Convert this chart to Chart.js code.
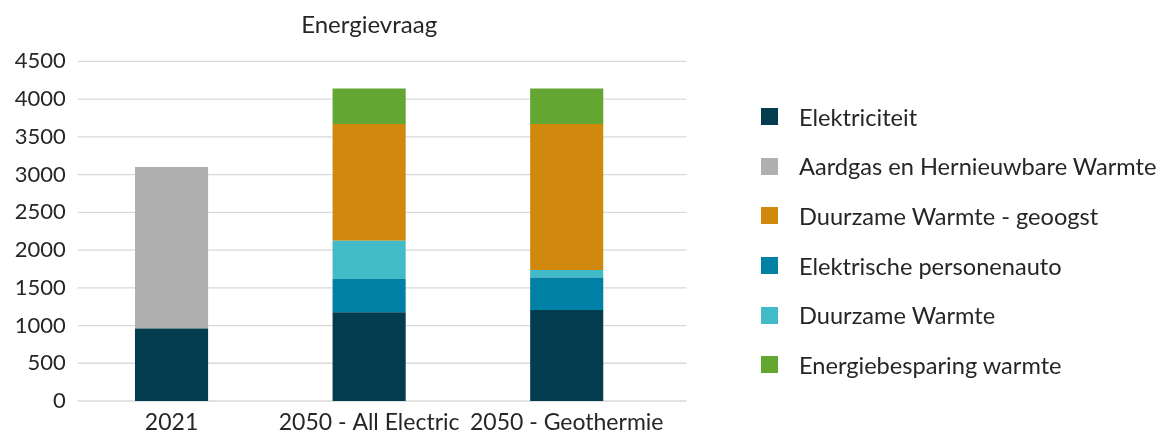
<!DOCTYPE html>
<html lang="nl">
<head>
<meta charset="utf-8">
<title>Energievraag</title>
<script src="https://cdn.jsdelivr.net/npm/chart.js@4.4.1/dist/chart.umd.min.js"></script>
<style>
  body { margin: 0; background: #fff; }
  #wrap { position: relative; width: 1171px; height: 438px; }
  #legend {
    position: absolute; left: 761px; top: 92px;
    margin: 0; padding: 0; list-style: none;
    font-family: Lato, sans-serif; font-size: 23.6px; color: #262626;
  }
  #legend li { display: flex; align-items: center; height: 49.6px; white-space: nowrap; }
  #legend .box { width: 17px; height: 17px; margin-right: 21px; flex: none; }
</style>
</head>
<body>
<div id="wrap">
  <canvas id="chart" width="1171" height="438"></canvas>
  <ul id="legend"></ul>
</div>
<script>
// categories on the x axis
const categories = ['2021', '2050 - All Electric', '2050 - Geothermie'];

// stacked series, bottom to top
const elektriciteit = [960, 1175, 1205];
const aardgas = [2140, 0, 0];
const personenauto = [0, 440, 430];
const duurzameWarmte = [0, 510, 100];
const geoogst = [0, 1545, 1935];
const besparing = [0, 470, 470];

// y axis ticks
const yMin = 0;
const yMax = 4500;
const yStep = 500;

const series = [
  { label: 'Elektriciteit', data: elektriciteit, color: '#043c4f' },
  { label: 'Aardgas en Hernieuwbare Warmte', data: aardgas, color: '#b0b0b0' },
  { label: 'Elektrische personenauto', data: personenauto, color: '#0180a6' },
  { label: 'Duurzame Warmte', data: duurzameWarmte, color: '#42bbc9' },
  { label: 'Duurzame Warmte - geoogst', data: geoogst, color: '#d0890c' },
  { label: 'Energiebesparing warmte', data: besparing, color: '#63a632' }
];

// legend order as in the report
const legendOrder = [
  'Elektriciteit',
  'Aardgas en Hernieuwbare Warmte',
  'Duurzame Warmte - geoogst',
  'Elektrische personenauto',
  'Duurzame Warmte',
  'Energiebesparing warmte'
];

const textColor = '#262626';
const fontFamily = 'Lato, sans-serif';

// horizontal gridlines, a bit wider than the bar area like the original
const gridLines = {
  id: 'gridLines',
  beforeDatasetsDraw(chart) {
    const { ctx, chartArea, scales: { y } } = chart;
    ctx.save();
    ctx.strokeStyle = '#d9d9d9';
    ctx.lineWidth = 1.3;
    y.ticks.forEach(t => {
      const py = y.getPixelForValue(t.value);
      ctx.beginPath();
      ctx.moveTo(chartArea.left + 5, py);
      ctx.lineTo(chartArea.right + 21, py);
      ctx.stroke();
    });
    ctx.restore();
  }
};

const chart = new Chart(document.getElementById('chart'), {
  type: 'bar',
  data: {
    labels: categories,
    datasets: series.map(s => ({
      label: s.label,
      data: s.data,
      backgroundColor: s.color,
      borderWidth: 0,
      barPercentage: 0.37,
      categoryPercentage: 1.0
    }))
  },
  options: {
    responsive: false,
    animation: false,
    layout: { padding: { left: 0, right: 505.5, top: 0, bottom: 0 } },
    plugins: {
      legend: { display: false },
      tooltip: { enabled: false },
      title: {
        display: true,
        text: 'Energievraag',
        fullSize: false,
        color: textColor,
        font: { family: fontFamily, size: 24, weight: 'normal' },
        padding: { top: 11, bottom: 21.6 }
      }
    },
    scales: {
      x: {
        stacked: true,
        grid: { display: false, drawTicks: false },
        border: { display: false },
        ticks: {
          color: textColor,
          font: { family: fontFamily, size: 23 },
          padding: 8,
          maxRotation: 0,
          autoSkip: false
        },
        afterFit(scale) { scale.height = 37; }
      },
      y: {
        stacked: true,
        min: yMin,
        max: yMax,
        grid: { display: false, drawTicks: false },
        border: { display: false },
        ticks: {
          stepSize: yStep,
          color: textColor,
          font: { family: fontFamily, size: 22 },
          padding: 7,
          callback: value => String(value)
        },
        afterFit(scale) { scale.width = 72.75; }
      }
    }
  },
  plugins: [gridLines]
});

// html legend
const legendEl = document.getElementById('legend');
legendOrder.forEach(name => {
  const s = series.find(item => item.label === name);
  const li = document.createElement('li');
  const box = document.createElement('span');
  box.className = 'box';
  box.style.background = s.color;
  li.appendChild(box);
  li.appendChild(document.createTextNode(s.label));
  legendEl.appendChild(li);
});
</script>
</body>
</html>
